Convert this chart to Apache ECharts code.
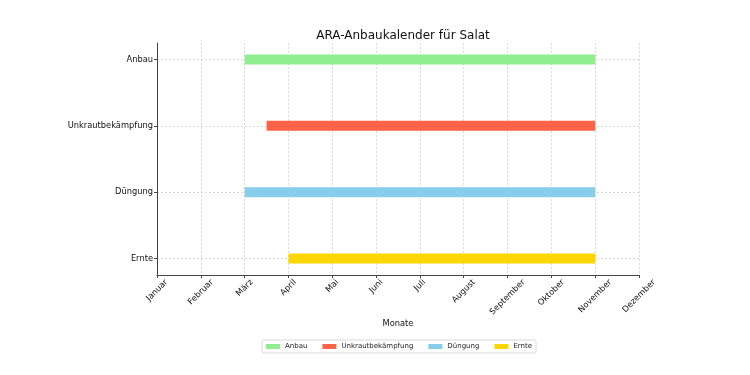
<!DOCTYPE html>
<html><head><meta charset="utf-8">
<script src="https://cdn.jsdelivr.net/npm/echarts@6/dist/echarts.min.js"></script>
<style>html,body{margin:0;padding:0;background:#fff}#c{width:750px;height:375px}</style>
</head><body><div id="c"></div>
<script>
const months = ['Januar','Februar','März','April','Mai','Juni','Juli','August','September','Oktober','November','Dezember'];
const tasks = ['Anbau','Unkrautbekämpfung','Düngung','Ernte'];
const starts = [2, 2.5, 2, 3];
const ends = [10, 10, 10, 10];
const colors = ['#90EE90','#FF6347','#87CEEB','#FFD700'];

const FONT = 'DejaVu Sans';
const FS = 8.3;
const ctx = document.createElement('canvas').getContext('2d');
ctx.font = FS + 'px "' + FONT + '"';
const rich = {};
months.forEach((m, i) => {
  const w = ctx.measureText(m).width;
  const p = 0.5 * (w + FS);
  rich['m' + i] = {fontFamily: FONT, fontSize: FS, color: '#111', padding: [p, p, 0, 0]};
});

const series = tasks.map((t, i) => ({
  name: t,
  type: 'custom',
  itemStyle: {color: colors[i]},
  encode: {x: [0, 1], y: 2},
  data: [[starts[i], ends[i], i]],
  renderItem: function (params, api) {
    const a = api.coord([api.value(0), api.value(2)]);
    const b = api.coord([api.value(1), api.value(2)]);
    const h = 10;
    return {type: 'rect', shape: {x: a[0], y: a[1] - h / 2, width: b[0] - a[0], height: h},
      style: {fill: colors[i]}};
  }
}));

const gridLine = {show: true, lineStyle: {color: '#d0d0d0', type: [2, 2], width: 0.8}};
const chart = echarts.init(document.getElementById('c'));
chart.setOption({
  animation: false,
  title: {text: 'ARA-Anbaukalender für Salat', left: 398, top: 25, textAlign: 'center',
    textStyle: {fontFamily: FONT, fontSize: 12, fontWeight: 'normal', color: '#111'}},
  grid: {left: 157, right: 111, top: 43, bottom: 100},
  legend: {top: 340, left: 262, itemWidth: 14, itemHeight: 5, itemGap: 15,
    icon: 'rect', borderColor: '#d8d8d8', borderWidth: 1, borderRadius: 2, padding: [3, 4],
    textStyle: {fontFamily: FONT, fontSize: 7, color: '#222'},
    data: tasks},
  xAxis: {type: 'value', min: 0, max: 11, interval: 1, name: 'Monate', nameLocation: 'middle', nameGap: 45,
    nameMoveOverlap: false,
    nameTextStyle: {fontFamily: FONT, fontSize: FS, color: '#111'},
    axisLine: {show: true, onZero: false, lineStyle: {color: '#444'}},
    axisTick: {show: true, length: 3, lineStyle: {color: '#444'}},
    axisLabel: {rotate: 45, align: 'center', verticalAlign: 'middle', margin: 3,
      fontFamily: FONT, fontSize: FS, color: '#111', rich: rich,
      formatter: v => (months[v] !== undefined ? '{m' + v + '|' + months[v] + '}' : '')},
    splitLine: gridLine},
  yAxis: {type: 'value', min: -0.25, max: 3.25, inverse: true,
    axisLine: {show: true, onZero: false, lineStyle: {color: '#444'}},
    axisTick: {show: true, length: 3, customValues: [0,1,2,3], lineStyle: {color: '#444'}},
    axisLabel: {customValues: [0,1,2,3], fontFamily: FONT, fontSize: FS, color: '#111', margin: 4,
      formatter: v => tasks[v] || ''},
    splitLine: gridLine},
  series: series
});
</script></body></html>
